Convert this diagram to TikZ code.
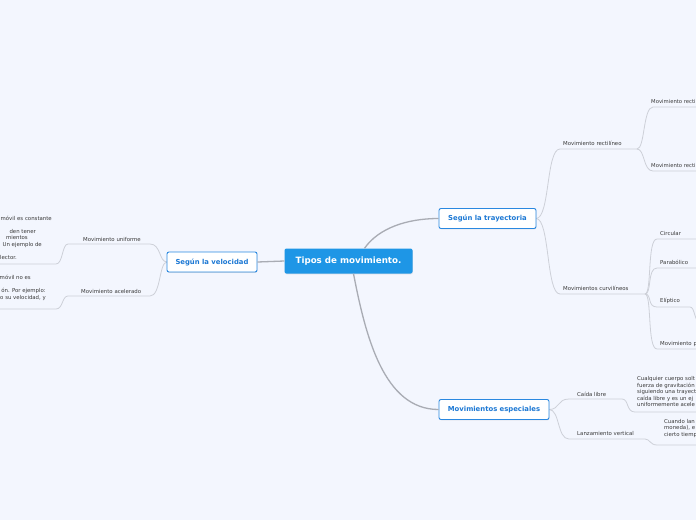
\documentclass[tikz,border=0pt]{standalone}
\usepackage{fontspec}
\setmainfont{DejaVu Sans}
\usetikzlibrary{shadows}
\definecolor{bg}{HTML}{F3F6FE}
\definecolor{rootfill}{HTML}{1E96E6}
\definecolor{boxline}{HTML}{2A88E0}
\definecolor{boxtext}{HTML}{1C78D4}
\definecolor{labtext}{HTML}{3A3A3A}
\definecolor{mainline}{HTML}{A9ACB4}
\definecolor{subline}{HTML}{CDD0D8}
\tikzset{
  rootbox/.style={fill=rootfill, text=white, rounded corners=2pt, minimum width=128pt, minimum height=25pt, inner sep=0pt, font=\fontsize{8.7}{10}\selectfont\bfseries, drop shadow={opacity=0.2, shadow xshift=0.4pt, shadow yshift=-0.8pt}},
  topicbox/.style={draw=boxline, line width=0.9pt, fill=white, text=boxtext, rounded corners=2pt, minimum height=20pt, inner sep=0pt, font=\fontsize{6.85}{8}\selectfont\bfseries, drop shadow={opacity=0.2, shadow xshift=0.4pt, shadow yshift=-0.8pt}},
  lab/.style={text=labtext, inner sep=0pt, font=\fontsize{5.4}{6.5}\selectfont},
  desc/.style={text=labtext, inner sep=0pt, font=\fontsize{5.4}{6.5}\selectfont},
  mainconn/.style={draw=mainline, line width=1.3pt},
  subconn/.style={draw=subline, line width=0.8pt}
}
\begin{document}
\begin{tikzpicture}[x=1pt,y=-1pt]
\useasboundingbox (0,0) rectangle (696,520);
\fill[bg] (0,0) rectangle (696,520);
\begin{scope}
\clip (0,0) rectangle (696,520);

% junction coordinates
\coordinate (uA) at (150,244);
\coordinate (uB) at (68,244);
\coordinate (uC) at (56,264);
\coordinate (uD) at (-5,264);
\coordinate (aA) at (150,296);
\coordinate (aB) at (68,296);
\coordinate (aC) at (56,309);
\coordinate (aD) at (-5,309);

\coordinate (rA) at (560,149);
\coordinate (rB) at (637,149);
\coordinate (r1) at (653,107);
\coordinate (r1e) at (700,107);
\coordinate (r2) at (653,171);
\coordinate (r2e) at (700,171);

\coordinate (cA) at (560,294);
\coordinate (cB) at (645,294);
\coordinate (c1) at (657,239);
\coordinate (c1e) at (700,239);
\coordinate (c2) at (657,268);
\coordinate (c2e) at (700,268);
\coordinate (c3) at (657,307);
\coordinate (c3e) at (690,307);
\coordinate (c3f) at (700,323);
\coordinate (c4) at (657,349);
\coordinate (c4e) at (700,349);

\coordinate (eA) at (569,399);
\coordinate (eB) at (622,399);
\coordinate (eC) at (635,412);
\coordinate (eD) at (700,412);
\coordinate (lA) at (569,439);
\coordinate (lB) at (645,439);
\coordinate (lC) at (657,445);
\coordinate (lD) at (700,445);

% connectors (drawn first)
\draw[subconn] (212,262) ++(-45,0) coordinate (velW)
  .. controls (159,262) and (161,244) .. (uA) -- (uB)
  .. controls (62,244) and (63,264) .. (uC) -- (uD);
\draw[subconn] (velW)
  .. controls (159,262) and (161,296) .. (aA) -- (aB)
  .. controls (62,296) and (63,309) .. (aC) -- (aD);

\draw[subconn] (536,218.5) coordinate (trE)
  .. controls (550,218.5) and (546,149) .. (rA) -- (rB);
\draw[subconn] (rB) .. controls (645,149) and (643,107) .. (r1) -- (r1e);
\draw[subconn] (rB) .. controls (645,149) and (643,171) .. (r2) -- (r2e);
\draw[subconn] (trE) .. controls (550,218.5) and (546,294) .. (cA) -- (cB);
\draw[subconn] (cB) .. controls (652,294) and (647,239) .. (c1) -- (c1e);
\draw[subconn] (cB) .. controls (652,294) and (647,268) .. (c2) -- (c2e);
\draw[subconn] (cB) .. controls (652,294) and (647,307) .. (c3) -- (c3e)
  .. controls (695,307) and (694,321) .. (c3f);
\draw[subconn] (cB) .. controls (652,294) and (647,349) .. (c4) -- (c4e);

\draw[subconn] (549,409.5) coordinate (esE)
  .. controls (560,409.5) and (557,399) .. (eA) -- (eB)
  .. controls (629,399) and (626,412) .. (eC) -- (eD);
\draw[subconn] (esE)
  .. controls (560,409.5) and (557,439) .. (lA) -- (lB)
  .. controls (650,439) and (650,445) .. (lC) -- (lD);

% main nodes
\node[rootbox] (root) at (348.5,261) {Tipos de movimiento.};
\node[topicbox, minimum width=90pt] (vel) at (212,262) {Según la velocidad};
\node[topicbox, minimum width=97pt] (tray) at (487.5,218.5) {Según la trayectoria};
\node[topicbox, minimum width=110pt] (esp) at (494,409.5) {Movimientos especiales};

% main connectors
\draw[mainconn] (root.west) -- (vel.east);
\draw[mainconn] ([xshift=16pt]root.north) .. controls +(14,-20) and +(-32,0) .. (tray.west);
\draw[mainconn] ([xshift=5pt]root.south) .. controls +(12,62) and +(-55,0) .. (esp.west);

% labels
\node[lab, anchor=base west] (unif) at (83,241) {Movimiento uniforme};
\node[lab, anchor=base west] (acel) at (81,293) {Movimiento acelerado};
\node[lab, anchor=base west] (rect) at (563,145) {Movimiento rectilíneo};
\node[lab, anchor=base west, font=\fontsize{5.3}{6.5}\selectfont] (rect1) at (651,103) {Movimiento recti};
\node[lab, anchor=base west, font=\fontsize{5.3}{6.5}\selectfont] (rect2) at (651,167) {Movimiento recti};
\node[lab, anchor=base west] (curv) at (563,290) {Movimientos curvilíneos};
\node[lab, anchor=base west] (circ) at (660,235) {Circular};
\node[lab, anchor=base west] (para) at (660,264) {Parabólico};
\node[lab, anchor=base west] (elip) at (660,302) {Elíptico};
\node[lab, anchor=base west] (movp) at (660,345) {Movimiento p};
\node[lab, anchor=base west] (caida) at (577,396) {Caída libre};
\node[lab, anchor=base west] (lanz) at (577,435) {Lanzamiento vertical};

% description fragments (left)
\node[desc, anchor=base east] (d1) at (52,220) {móvil es constante};
\node[desc, anchor=base east] (d2) at (36,233) {den tener};
\node[desc, anchor=base east] (d3) at (28,239.5) {mientos};
\node[desc, anchor=base east] (d4) at (42,246) {. Un ejemplo de};
\node[desc, anchor=base east] (d5) at (17,259) {lector.};
\node[desc, anchor=base east] (d6) at (31,279.5) {móvil no es};
\node[desc, anchor=base east] (d7) at (46,292.5) {ón. Por ejemplo:};
\node[desc, anchor=base east] (d8) at (46,299) {o su velocidad, y};

% description fragments (right)
\node[desc, anchor=north west, align=left] (cdesc) at (637,376.5) {Cualquier cuerpo solt\\fuerza de gravitación\\siguiendo una trayect\\caída libre y es un ej\\uniformemente acele};
\node[desc, anchor=north west, align=left] (ldesc) at (664,419) {Cuando lan\\moneda), e\\cierto tiemp};
\end{scope}
\end{tikzpicture}
\end{document}
